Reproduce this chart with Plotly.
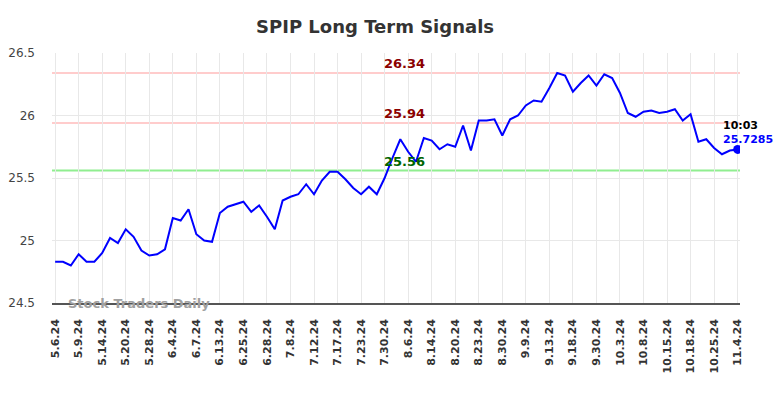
import plotly.graph_objects as go

values = [
    24.83, 24.83, 24.80, 24.89, 24.83, 24.83, 24.90, 25.02, 24.98, 25.09,
    25.03, 24.92, 24.88, 24.89, 24.93, 25.18, 25.16, 25.25, 25.05, 25.00,
    24.99, 25.22, 25.27, 25.29, 25.31, 25.23, 25.28, 25.19, 25.09, 25.32,
    25.35, 25.37, 25.45, 25.37, 25.48, 25.55, 25.55, 25.49, 25.42, 25.37,
    25.43, 25.37, 25.50, 25.66, 25.81, 25.71, 25.63, 25.82, 25.80, 25.73,
    25.77, 25.75, 25.92, 25.72, 25.96, 25.96, 25.97, 25.84, 25.97, 26.00,
    26.08, 26.12, 26.11, 26.22, 26.34, 26.32, 26.19, 26.26, 26.32, 26.24,
    26.33, 26.30, 26.18, 26.02, 25.99, 26.03, 26.04, 26.02, 26.03, 26.05,
    25.96, 26.01, 25.79, 25.81, 25.74, 25.69, 25.72, 25.7285,
]
tick_labels = [
    "5.6.24", "5.9.24", "5.14.24", "5.20.24", "5.28.24", "6.4.24", "6.7.24",
    "6.13.24", "6.25.24", "6.28.24", "7.8.24", "7.12.24", "7.17.24", "7.23.24",
    "7.30.24", "8.6.24", "8.14.24", "8.20.24", "8.23.24", "8.30.24", "9.9.24",
    "9.13.24", "9.18.24", "9.30.24", "10.3.24", "10.8.24", "10.15.24",
    "10.18.24", "10.25.24", "11.4.24",
]
resistance_levels = [26.34, 25.94]
support_levels = [25.56]
last_time = "10:03"
title_text = "SPIP Long Term Signals"
watermark = "Stock Traders Daily"

x = list(range(len(values)))
tick_vals = x[::3]

FONT = "DejaVu Sans"
fig = go.Figure()

fig.add_trace(go.Scatter(
    x=x, y=values, mode="lines",
    line=dict(color="#0000ff", width=2),
    hoverinfo="skip", showlegend=False,
))
fig.add_trace(go.Scatter(
    x=[x[-1]], y=[values[-1]], mode="markers",
    marker=dict(color="#0000ff", size=9),
    hoverinfo="skip", showlegend=False,
))

for lvl in resistance_levels:
    fig.add_hline(y=lvl, line=dict(color="#ffcccc", width=2), layer="below")
    fig.add_annotation(x=0.513, xref="paper", y=lvl, yref="y", text=f"<b>{lvl:.2f}</b>",
                       showarrow=False, yanchor="bottom", yshift=0,
                       font=dict(family=FONT, size=13, color="#8b0000"))
for lvl in support_levels:
    fig.add_hline(y=lvl, line=dict(color="#90ee90", width=2), layer="below")
    fig.add_annotation(x=0.513, xref="paper", y=lvl, yref="y", text=f"<b>{lvl:.2f}</b>",
                       showarrow=False, yanchor="bottom", yshift=0,
                       font=dict(family=FONT, size=13, color="#006400"))

fig.add_annotation(x=x[-1], y=values[-1], xref="x", yref="y", text=f"<b>{last_time}</b>",
                   showarrow=False, xanchor="left", xshift=-17, yshift=24,
                   font=dict(family=FONT, size=11, color="#000000"))
fig.add_annotation(x=x[-1], y=values[-1], xref="x", yref="y", text=f"<b>{values[-1]}</b>",
                   showarrow=False, xanchor="left", xshift=-17, yshift=10,
                   font=dict(family=FONT, size=11, color="#0000ff"))

fig.add_annotation(x=0.02, xref="paper", y=24.5, yref="y", text=f"<b>{watermark}</b>",
                   showarrow=False, xanchor="left", yanchor="middle",
                   font=dict(family=FONT, size=13, color="#a0a0a0"))

fig.update_layout(
    width=776, height=390,
    margin=dict(l=44, r=44, t=45, b=95, autoexpand=False),
    paper_bgcolor="white", plot_bgcolor="white",
    title=dict(text=f"<b>{title_text}</b>", x=0.473, xanchor="center", y=0.951, yanchor="middle",
               font=dict(family=FONT, size=18, color="#333333")),
    font=dict(family=FONT),
    xaxis=dict(
        range=[-0.4, 87.3], automargin=False,
        tickmode="array", tickvals=tick_vals,
        ticktext=[f"<b>{t}</b>" for t in tick_labels],
        tickangle=-90, tickfont=dict(family=FONT, size=11, color="#333333"),
        showgrid=True, gridcolor="#e8e8e8", gridwidth=1,
        showline=True, linecolor="#555555", linewidth=1.5,
        zeroline=False, ticks="", ticklabelstandoff=10,
    ),
    yaxis=dict(
        range=[24.5, 26.5], automargin=False,
        tickvals=[24.5, 25, 25.5, 26, 26.5],
        ticktext=["24.5", "25", "25.5", "26", "26.5"],
        tickfont=dict(family=FONT, size=12, color="#444444"),
        showgrid=True, gridcolor="#e8e8e8", gridwidth=1,
        zeroline=False, showline=False, ticks="", ticklabelstandoff=16,
    ),
)

fig.write_html("out.html")
